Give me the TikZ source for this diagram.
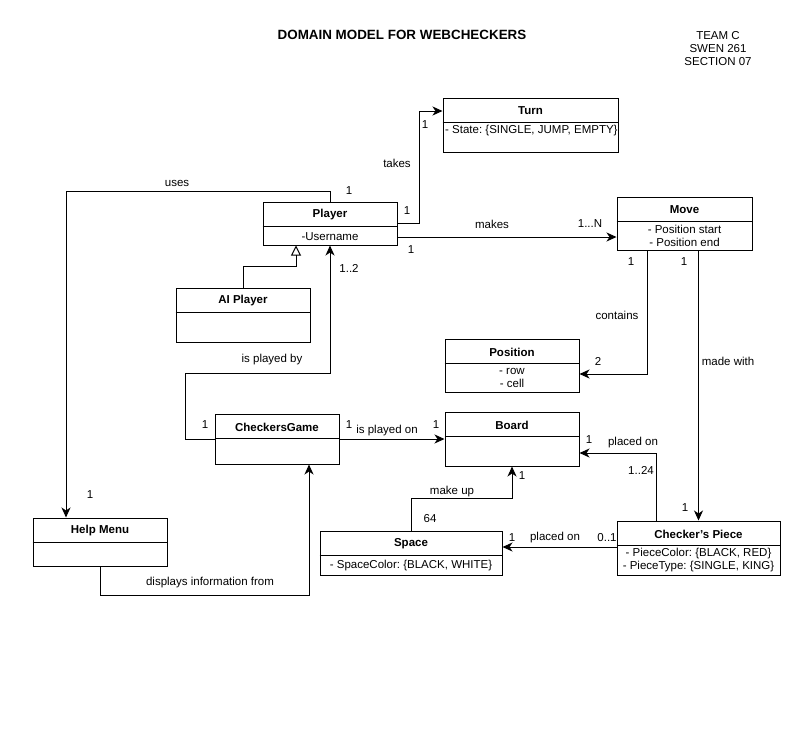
\documentclass[tikz,border=0pt]{standalone}
\usepackage{fontspec}
\setmainfont{Liberation Sans}
\usetikzlibrary{arrows.meta}
\frenchspacing

\begin{document}
\begin{tikzpicture}[x=1pt, y=-1pt]
\tikzset{classbox/.style={draw, line width=1pt, inner sep=0pt},
  classname/.style={font=\fontsize{11.5}{14}\selectfont\bfseries, inner sep=0pt},
  attr/.style={font=\fontsize{11.5}{13}\selectfont, inner sep=0pt},
  lbl/.style={font=\fontsize{11.5}{13}\selectfont, inner sep=0pt},
  assoc/.style={line width=1pt, -{Stealth[length=10pt, width=9pt, inset=3pt]}},
  inherit/.style={line width=1pt, -{Triangle[open, length=10pt, width=10pt]}}}
\useasboundingbox (0,0) rectangle (805,736);
\node[classname, font=\fontsize{13.4}{16}\selectfont\bfseries] (title) at (402,35) {DOMAIN MODEL FOR WEBCHECKERS};
\node[lbl, align=center] (team) at (718,49) {TEAM C\\SWEN 261\\SECTION 07};
\node[classbox, minimum width=175, minimum height=54] (turn) at (530.5,125) {};
\node[classbox, minimum width=134, minimum height=43] (player) at (330,223.5) {};
\node[classbox, minimum width=135, minimum height=53] (move) at (684.5,223.5) {};
\node[classbox, minimum width=134, minimum height=54] (ai) at (243,315) {};
\node[classbox, minimum width=134, minimum height=53] (position) at (512,365.5) {};
\node[classbox, minimum width=124, minimum height=50] (game) at (277,439) {};
\node[classbox, minimum width=134, minimum height=54] (board) at (512,439) {};
\node[classbox, minimum width=134, minimum height=48] (help) at (100,542) {};
\node[classbox, minimum width=182, minimum height=44] (space) at (411,553) {};
\node[classbox, minimum width=163, minimum height=54] (piece) at (698.5,548) {};
\foreach \c in {turn,player,move,ai,position,game,board,help,space,piece}
  \draw[line width=1pt] ([yshift=-25]\c.north west) -- ([yshift=-25]\c.north east);
\node[classname] (turn-name) at ([yshift=-13.5]turn.north) {Turn};
\node[classname] (player-name) at ([yshift=-13]player.north) {Player};
\node[classname] (move-name) at ([yshift=-13.5]move.north) {Move};
\node[classname] (ai-name) at ([yshift=-13]ai.north) {AI Player};
\node[classname] (position-name) at ([yshift=-13.5]position.north) {Position};
\node[classname] (game-name) at ([yshift=-13.5]game.north) {CheckersGame};
\node[classname] (board-name) at ([yshift=-13.5]board.north) {Board};
\node[classname] (help-name) at ([yshift=-13.5]help.north) {Help Menu};
\node[classname] (space-name) at ([yshift=-13]space.north) {Space};
\node[classname] (piece-name) at ([yshift=-13.5]piece.north) {Checker{\char39}s Piece};
\node[attr, anchor=west] (turn-attr) at (445,131) {- State: \{SINGLE, JUMP, EMPTY\}};
\node[attr] (player-attr) at (330,237) {-Username};
\node[attr, align=center] (move-attr) at (684.5,236) {- Position start\\- Position end};
\node[attr, align=center] (position-attr) at (512,377.5) {- row\\- cell};
\node[attr] (space-attr) at (411,566) {- SpaceColor: \{BLACK, WHITE\}};
\node[attr, align=center] (piece-attr) at (698.5,560.5) {- PieceColor: \{BLACK, RED\}\\- PieceType: \{SINGLE, KING\}};
\draw[assoc] (player.east) -- ++(22,0) |- ([yshift=14]turn.west);
\draw[assoc] ([yshift=-13.5]player.east) -- ([yshift=-13.5]move.west);
\draw[assoc] (player.north) -- ++(0,-10) -| ([xshift=-34]help.north);
\draw[inherit] (ai.north) -- ++(0,-21) -| ([xshift=-34]player.south);
\draw[assoc] (game.west) -- ++(-29,0) -- ++(0,-66) -| (player.south);
\draw[assoc] (game.east) -- (board.west);
\draw[assoc] ([xshift=-37.5]move.south) |- ([yshift=-8.5]position.east);
\draw[assoc] (piece.north |- move.south) -- (piece.north);
\draw[assoc] ([xshift=-42.5]piece.north) |- ([yshift=-14]board.east);
\draw[assoc] ([yshift=1]piece.west) -- ([yshift=1]piece.west -| space.east);
\draw[assoc] (space.north) -- ++(0,-32) -| (board.south);
\draw[assoc] (help.south) -- ++(0,29) -| ([xshift=32]game.south);
\node[lbl] (takes) at (397,163) {takes};
\node[lbl] (takes-a) at (407,211) {1};
\node[lbl] (takes-b) at (425,125) {1};
\node[lbl] (uses) at (177,183) {uses};
\node[lbl] (uses-a) at (349,191) {1};
\node[lbl] (uses-b) at (90,495) {1};
\node[lbl] (makes) at (492,224) {makes};
\node[lbl] (makes-a) at (411,250) {1};
\node[lbl] (makes-b) at (590,224) {1...N};
\node[lbl] (playedby) at (272,360) {is played by};
\node[lbl] (playedby-a) at (205,425) {1};
\node[lbl] (playedby-b) at (349,268) {1..2};
\node[lbl] (playedon) at (387,431) {is played on};
\node[lbl] (playedon-a) at (349,425) {1};
\node[lbl] (playedon-b) at (436,425) {1};
\node[lbl] (contains) at (617,315) {contains};
\node[lbl] (contains-a) at (631,262) {1};
\node[lbl] (contains-b) at (598,361) {2};
\node[lbl] (madewith) at (728,361) {made with};
\node[lbl] (madewith-a) at (684,262) {1};
\node[lbl] (madewith-b) at (685,508) {1};
\node[lbl] (onboard) at (633,443) {placed on};
\node[lbl] (onboard-a) at (641,470) {1..24};
\node[lbl] (onboard-b) at (589,440) {1};
\node[lbl] (onspace) at (555,538) {placed on};
\node[lbl] (onspace-a) at (607,538) {0..1};
\node[lbl] (onspace-b) at (512,538) {1};
\node[lbl] (makeup) at (452,492) {make up};
\node[lbl] (makeup-a) at (430,519) {64};
\node[lbl] (makeup-b) at (522,476) {1};
\node[lbl] (displays) at (210,583) {displays information from};
\end{tikzpicture}
\end{document}
